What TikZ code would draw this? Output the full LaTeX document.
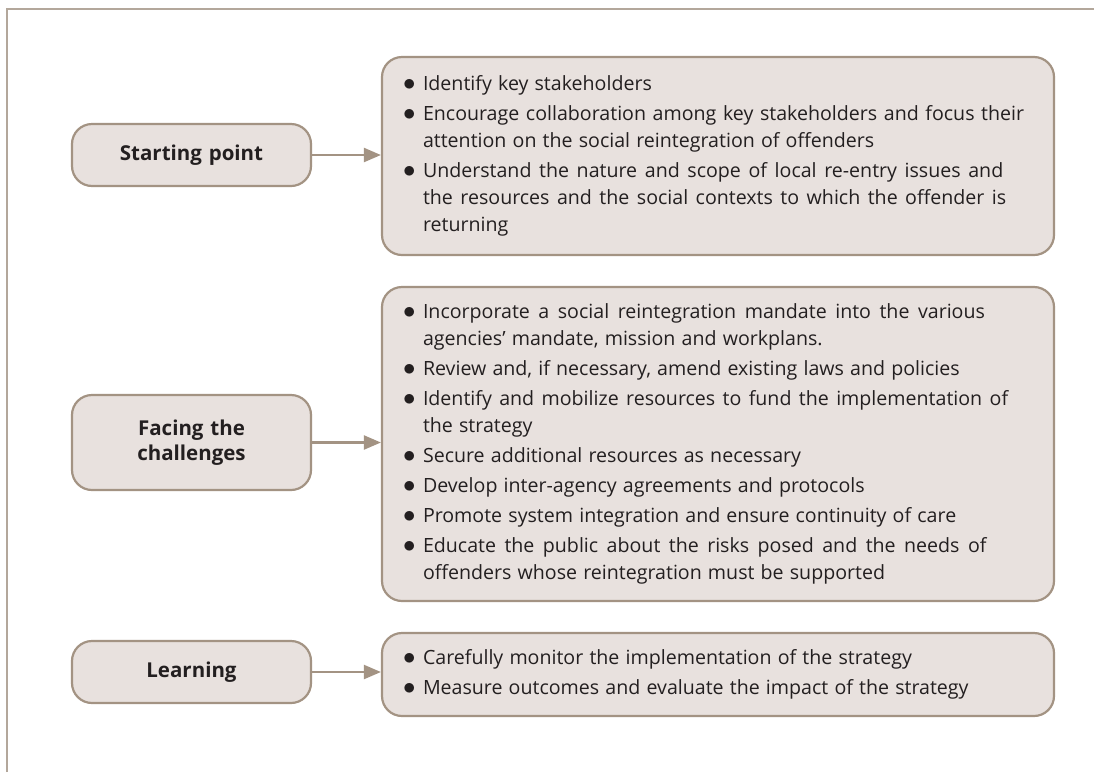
\documentclass[tikz,border=0pt]{standalone}
\usepackage{fontspec}
\setmainfont{Open Sans}
\usetikzlibrary{arrows.meta}
\definecolor{boxfill}{HTML}{E8E1DE}
\definecolor{boxline}{HTML}{A39383}
\definecolor{frameline}{HTML}{B3A79B}
\definecolor{txt}{HTML}{231F20}
\newcommand{\bmark}{\makebox[20pt][l]{\fontsize{23}{27}\selectfont\ensuremath{\bullet}}}
\newcommand{\bfirst}[1]{\hangindent=20pt\hangafter=1\bmark#1}
\newcommand{\bitem}[1]{\par\hangindent=20pt\hangafter=1\noindent\bmark#1}
\newcommand{\listsetup}{\fontsize{19.6}{27}\selectfont\setlength{\parskip}{3pt}\spaceskip=0.315em plus 0.05em minus 0.02em\relax}
\tikzset{
  stagebox/.style={draw=boxline, fill=boxfill, line width=2.2pt, rounded corners=20pt,
    minimum width=239pt, text width=210pt, inner xsep=0pt, align=center, text=txt,
    font=\bfseries\fontsize{20.5}{25}\selectfont},
  listbox/.style={draw=boxline, fill=boxfill, line width=2.2pt, rounded corners=20pt,
    minimum width=672pt, text width=630pt, inner xsep=21pt, align=left, text=txt},
  conn/.style={draw=boxline, line width=2.2pt, -{Triangle[length=17pt,width=14pt]}},
}
\begin{document}
\begin{tikzpicture}[x=1pt,y=-1pt]
\useasboundingbox (0,0) rectangle (1094,772);
\draw[frameline, line width=1.5pt] (7,772) -- (7,9) -- (1094,9);

\node[stagebox, minimum height=62pt] (s1) at (191.5,155) {Starting point};
\node[stagebox, minimum height=95pt] (s2) at (191.5,442.5) {Facing the\\challenges};
\node[stagebox, minimum height=62pt] (s3) at (191.5,672) {Learning};

\node[listbox, minimum height=198pt] (b1) at (718,156) {\listsetup\bfirst{Identify key stakeholders}
\bitem{Encourage collaboration among key stakeholders and focus their\break attention on the social reintegration of offenders}
\bitem{Understand the nature and scope of local re-entry issues and\break the resources and the social contexts to which the offender is\break returning}\par};

\node[listbox, minimum height=314pt] (b2) at (718,444) {\listsetup\bfirst{Incorporate a social reintegration mandate into the various\break agencies’ mandate, mission and workplans.}
\bitem{Review and, if necessary, amend existing laws and policies}
\bitem{Identify and mobilize resources to fund the implementation of\break the strategy}
\bitem{Secure additional resources as necessary}
\bitem{Develop inter-agency agreements and protocols}
\bitem{Promote system integration and ensure continuity of care}
\bitem{Educate the public about the risks posed and the needs of\break offenders whose reintegration must be supported}\par};

\node[listbox, minimum height=83pt] (b3) at (718,674.5) {\listsetup\bfirst{Carefully monitor the implementation of the strategy}
\bitem{Measure outcomes and evaluate the impact of the strategy}\par};

\draw[conn] (s1.east) -- (s1.east -| b1.west);
\draw[conn] (s2.east) -- (s2.east -| b2.west);
\draw[conn] (s3.east) -- (s3.east -| b3.west);
\end{tikzpicture}
\end{document}
